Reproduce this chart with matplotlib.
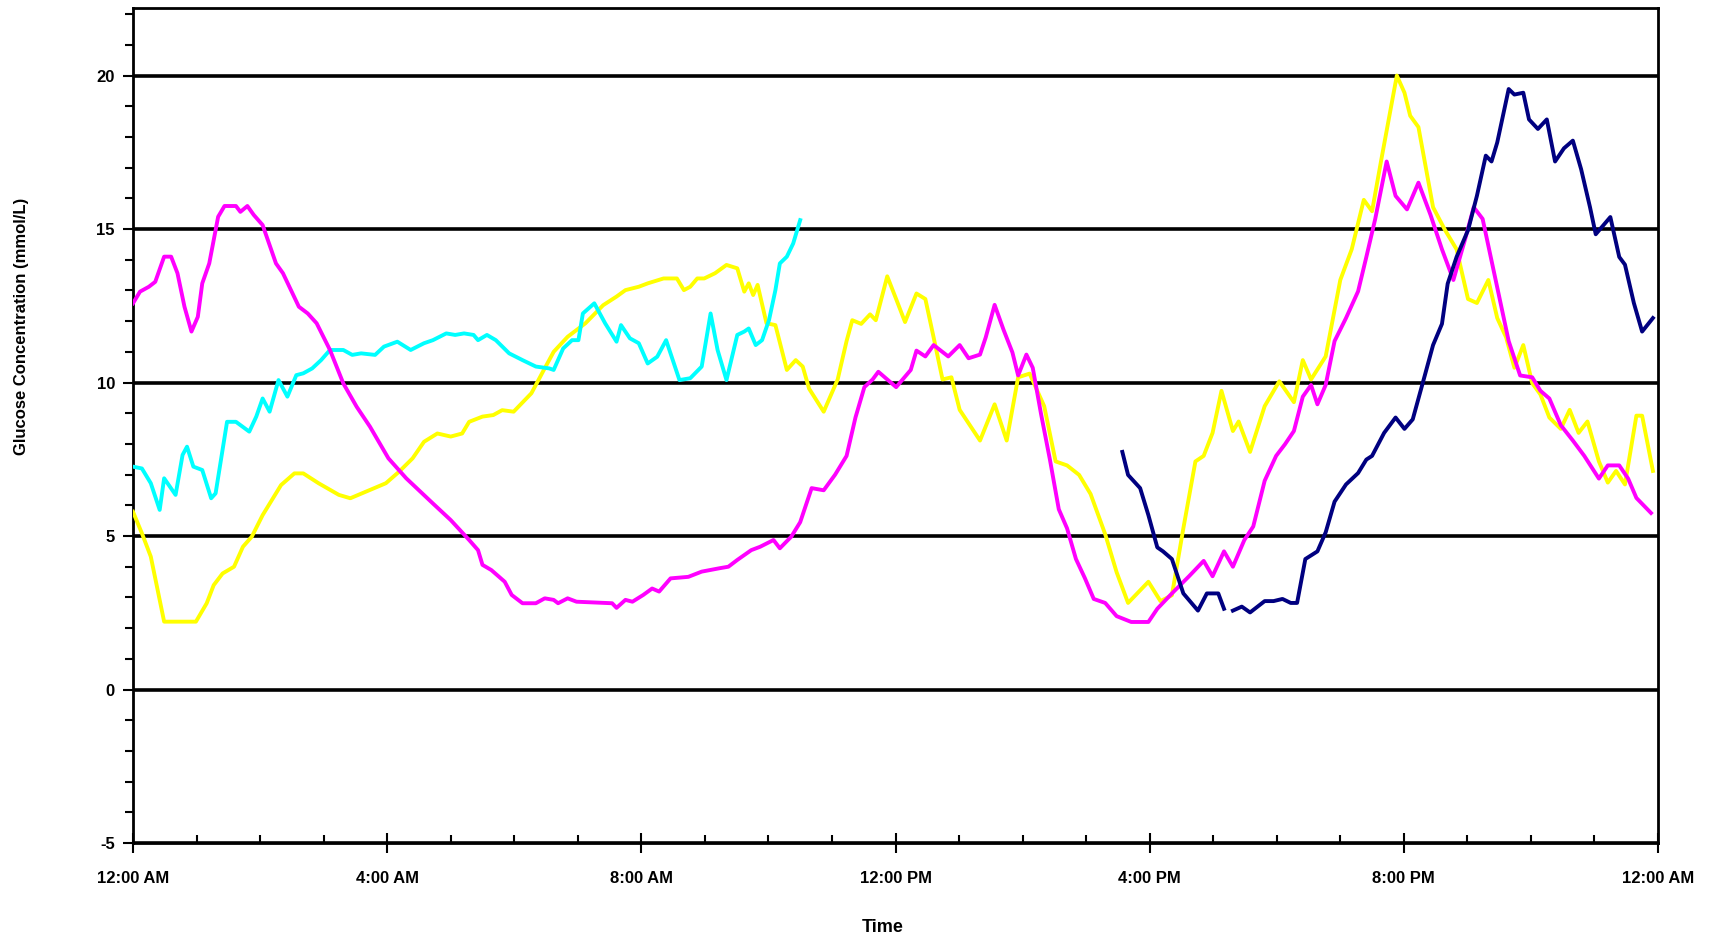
import numpy as np
import matplotlib
matplotlib.use('Agg')
import matplotlib.pyplot as plt
from matplotlib import font_manager

# hours after midnight, glucose in mmol/L
magenta_t = [0, 0.11, 0.25, 0.35, 0.49, 0.6, 0.70, 0.81, 0.92, 1.02, 1.09, 1.2, 1.34, 1.44, 1.62, 1.69,
             1.80, 1.90, 2.04, 2.25, 2.36, 2.61, 2.75, 2.89, 3.10, 3.31, 3.52, 3.73, 4.02, 4.30, 4.72,
             5.0, 5.29, 5.43, 5.50, 5.64, 5.85, 5.96, 6.13, 6.34, 6.48, 6.62, 6.69, 6.84, 6.98, 7.54,
             7.61, 7.75, 7.86, 8.03, 8.17, 8.28, 8.46, 8.74, 8.95, 9.23, 9.37, 9.51, 9.73, 9.87, 10.08,
             10.18, 10.36, 10.5, 10.68, 10.87, 11.05, 11.23, 11.37, 11.51, 11.64, 11.73, 11.87, 12.01,
             12.24, 12.33, 12.47, 12.60, 12.83, 13.01, 13.15, 13.33, 13.42, 13.56, 13.70, 13.84, 13.93,
             14.06, 14.16, 14.29, 14.43, 14.57, 14.70, 14.84, 14.98, 15.12, 15.30, 15.48, 15.71, 15.98,
             16.12, 16.35, 16.62, 16.85, 16.99, 17.17, 17.31, 17.49, 17.63, 17.81, 17.99, 18.13, 18.27,
             18.41, 18.54, 18.64, 18.77, 18.91, 19.09, 19.28, 19.41, 19.55, 19.73, 19.87, 20.05, 20.23,
             20.42, 20.60, 20.78, 20.97, 21.10, 21.24, 21.47, 21.65, 21.83, 22.02, 22.15, 22.29, 22.47,
             22.66, 22.84, 23.07, 23.21, 23.39, 23.53, 23.66, 23.89]
magenta_v = [12.58, 12.96, 13.12, 13.28, 14.1, 14.1, 13.56, 12.47, 11.66, 12.14, 13.23, 13.88, 15.4, 15.75,
             15.75, 15.56, 15.75, 15.46, 15.13, 13.88, 13.56, 12.47, 12.25, 11.93, 11.06, 9.97, 9.21, 8.56,
             7.53, 6.88, 6.06, 5.52, 4.87, 4.54, 4.06, 3.89, 3.51, 3.08, 2.81, 2.81, 2.97, 2.92, 2.81, 2.97,
             2.86, 2.81, 2.66, 2.92, 2.86, 3.08, 3.29, 3.19, 3.62, 3.67, 3.84, 3.95, 4.0, 4.22, 4.54, 4.65,
             4.87, 4.60, 4.98, 5.45, 6.56, 6.49, 7.0, 7.61, 8.86, 9.85, 10.1, 10.35, 10.1, 9.85, 10.41,
             11.04, 10.85, 11.22, 10.85, 11.22, 10.79, 10.91, 11.47, 12.53, 11.72, 10.98, 10.23, 10.91,
             10.48, 8.98, 7.49, 5.87, 5.25, 4.25, 3.63, 2.95, 2.82, 2.39, 2.20, 2.20, 2.63, 3.13, 3.69,
             4.19, 3.69, 4.50, 4.0, 4.87, 5.31, 6.80, 7.61, 7.99, 8.42, 9.54, 9.92, 9.29, 9.92, 11.35,
             12.1, 12.97, 14.09, 15.33, 17.2, 16.08, 15.64, 16.51, 15.46, 14.34, 13.34, 14.71, 15.71,
             15.33, 13.09, 11.35, 10.23, 10.17, 9.73, 9.48, 8.61, 8.11, 7.61, 6.87, 7.30, 7.30, 6.87,
             6.24, 5.75]

yellow_t = [0, 0.14, 0.28, 0.49, 0.99, 1.16, 1.27, 1.41, 1.59, 1.73, 1.87, 2.04, 2.33, 2.54, 2.68, 2.92,
            3.24, 3.42, 3.66, 3.98, 4.19, 4.40, 4.58, 4.79, 5.0, 5.18, 5.29, 5.50, 5.67, 5.81, 5.99, 6.27,
            6.45, 6.62, 6.84, 7.12, 7.40, 7.61, 7.75, 7.96, 8.10, 8.35, 8.56, 8.67, 8.77, 8.88, 8.99,
            9.16, 9.34, 9.51, 9.62, 9.69, 9.76, 9.83, 9.97, 10.11, 10.29, 10.43, 10.54, 10.64, 10.87,
            11.09, 11.23, 11.32, 11.46, 11.60, 11.69, 11.87, 12.01, 12.15, 12.33, 12.47, 12.60, 12.74,
            12.88, 13.01, 13.15, 13.33, 13.56, 13.75, 13.93, 14.11, 14.34, 14.52, 14.70, 14.89, 15.07,
            15.30, 15.48, 15.66, 15.98, 16.17, 16.35, 16.53, 16.72, 16.85, 16.99, 17.13, 17.31, 17.40,
            17.58, 17.81, 18.04, 18.27, 18.41, 18.54, 18.77, 19.0, 19.18, 19.37, 19.50, 19.64, 19.89,
            20.01, 20.10, 20.23, 20.46, 20.65, 20.83, 21.01, 21.15, 21.33, 21.47, 21.61, 21.74, 21.88,
            22.02, 22.15, 22.29, 22.47, 22.61, 22.75, 22.89, 23.07, 23.21, 23.34, 23.48, 23.66, 23.75,
            23.92]
yellow_v = [5.79, 5.09, 4.33, 2.21, 2.21, 2.81, 3.40, 3.78, 4.0, 4.65, 4.98, 5.68, 6.66, 7.04, 7.04, 6.72,
            6.34, 6.23, 6.44, 6.72, 7.10, 7.53, 8.07, 8.34, 8.24, 8.34, 8.72, 8.89, 8.94, 9.10, 9.05, 9.65,
            10.35, 11.0, 11.49, 11.93, 12.52, 12.80, 13.01, 13.12, 13.23, 13.39, 13.39, 13.01, 13.12,
            13.39, 13.39, 13.56, 13.83, 13.72, 12.96, 13.23, 12.85, 13.18, 11.93, 11.87, 10.41, 10.73,
            10.52, 9.80, 9.05, 10.1, 11.35, 12.03, 11.91, 12.22, 12.03, 13.46, 12.72, 11.97, 12.90, 12.72,
            11.47, 10.10, 10.17, 9.11, 8.67, 8.11, 9.29, 8.11, 10.17, 10.29, 9.23, 7.43, 7.30, 6.99, 6.37,
            5.06, 3.82, 2.82, 3.51, 2.88, 3.07, 5.25, 7.43, 7.61, 8.36, 9.73, 8.42, 8.73, 7.74, 9.23,
            10.04, 9.36, 10.73, 10.10, 10.85, 13.34, 14.34, 15.95, 15.58, 17.2, 20.0, 19.44, 18.69,
            18.32, 15.71, 14.96, 14.34, 12.72, 12.59, 13.34, 12.10, 11.47, 10.48, 11.22, 9.98, 9.61,
            8.86, 8.49, 9.11, 8.36, 8.73, 7.43, 6.74, 7.12, 6.68, 8.92, 8.92, 7.12]

cyan_t = [0, 0.14, 0.28, 0.42, 0.49, 0.67, 0.78, 0.85, 0.95, 1.09, 1.23, 1.30, 1.48, 1.62, 1.83, 1.94,
          2.04, 2.15, 2.29, 2.43, 2.57, 2.68, 2.82, 2.96, 3.10, 3.31, 3.45, 3.59, 3.81, 3.95, 4.16, 4.37,
          4.58, 4.72, 4.93, 5.07, 5.21, 5.36, 5.43, 5.57, 5.71, 5.92, 6.13, 6.34, 6.55, 6.62, 6.77, 6.91,
          7.01, 7.08, 7.26, 7.43, 7.61, 7.68, 7.82, 7.96, 8.10, 8.25, 8.39, 8.60, 8.77, 8.95, 9.09, 9.20,
          9.34, 9.51, 9.62, 9.69, 9.80, 9.90, 10.01, 10.11, 10.18, 10.29, 10.39, 10.50]
cyan_v = [7.26, 7.20, 6.72, 5.85, 6.88, 6.34, 7.64, 7.91, 7.26, 7.15, 6.23, 6.39, 8.72, 8.72, 8.40, 8.89,
          9.48, 9.05, 10.08, 9.54, 10.24, 10.30, 10.46, 10.73, 11.06, 11.06, 10.90, 10.95, 10.90, 11.17,
          11.33, 11.06, 11.28, 11.38, 11.60, 11.55, 11.60, 11.55, 11.38, 11.55, 11.38, 10.95, 10.73,
          10.52, 10.46, 10.41, 11.11, 11.38, 11.38, 12.25, 12.58, 11.93, 11.33, 11.87, 11.44, 11.28,
          10.62, 10.84, 11.38, 10.08, 10.14, 10.52, 12.25, 11.06, 10.08, 11.55, 11.66, 11.76, 11.22,
          11.38, 12.04, 13.01, 13.88, 14.10, 14.53, 15.29]

navy_t = [15.57, 15.66, 15.85, 15.98, 16.12, 16.21, 16.35, 16.53, 16.76, 16.90, 17.08, 17.17, 17.24,
          17.31, 17.45, 17.58, 17.81, 17.95, 18.09, 18.22, 18.32, 18.45, 18.64, 18.77, 18.91, 19.09,
          19.28, 19.41, 19.50, 19.69, 19.87, 20.01, 20.14, 20.33, 20.46, 20.60, 20.69, 20.83, 21.01,
          21.15, 21.29, 21.38, 21.47, 21.65, 21.74, 21.88, 21.97, 22.11, 22.25, 22.38, 22.52, 22.66,
          22.79, 22.93, 23.02, 23.25, 23.39, 23.48, 23.62, 23.75, 23.92]
navy_v = [7.74, 6.99, 6.56, 5.68, 4.63, 4.50, 4.25, 3.13, 2.57, 3.13, 3.13, 2.63, np.nan,
          2.57, 2.70, 2.51, 2.88, 2.88, 2.95, 2.82, 2.82, 4.25, 4.50, 5.12, 6.12, 6.68, 7.05, 7.49,
          7.61, 8.36, 8.86, 8.49, 8.80, 10.23, 11.22, 11.91, 13.22, 14.09, 14.96, 16.08, 17.39, 17.20,
          17.82, 19.56, 19.38, 19.44, 18.57, 18.26, 18.57, 17.20, 17.63, 17.88, 16.95, 15.71, 14.83,
          15.39, 14.09, 13.84, 12.59, 11.66, 12.10]

x_ticks = [0, 4, 8, 12, 16, 20, 24]
x_labels = ['12:00 AM', '4:00 AM', '8:00 AM', '12:00 PM', '4:00 PM', '8:00 PM', '12:00 AM']
y_ticks = [-5, 0, 5, 10, 15, 20]

names = {f.name for f in font_manager.fontManager.ttflist}
font = 'Liberation Sans Narrow' if 'Liberation Sans Narrow' in names else 'Liberation Sans'
plt.rcParams['font.family'] = [font, 'DejaVu Sans']
plt.rcParams['font.weight'] = 'bold'

fig = plt.figure(figsize=(17.11, 9.40), dpi=100)
ax = fig.add_axes([133 / 1711, 1 - 843 / 940, (1658 - 133) / 1711, (843 - 8) / 940])

ax.plot(yellow_t, yellow_v, color='#FFFF00', lw=2.8, zorder=3)
ax.plot(magenta_t, magenta_v, color='#FF00FF', lw=2.8, zorder=4)
ax.plot(cyan_t, cyan_v, color='#00FFFF', lw=2.8, zorder=3)
ax.plot(navy_t, navy_v, color='#000080', lw=2.8, zorder=5)

ax.set_xlim(0, 24)
ax.set_ylim(-5, 22.2)
ax.set_xticks(x_ticks)
ax.set_xticklabels(x_labels, fontsize=12, fontweight='bold')
ax.set_xticks(np.arange(0, 25, 1), minor=True)
ax.set_yticks(y_ticks)
ax.set_yticklabels([str(v) for v in y_ticks], fontsize=12, fontweight='bold')
ax.set_yticks(np.arange(-5, 23, 1), minor=True)

ax.tick_params(axis='x', which='major', direction='inout', length=14, width=1.5, pad=13)
ax.tick_params(axis='x', which='minor', direction='in', length=6, width=1.5)
ax.tick_params(axis='y', which='major', direction='out', length=7, width=1.5, pad=6)
ax.tick_params(axis='y', which='minor', direction='out', length=6, width=1.5)

ax.yaxis.grid(True, which='major', color='black', lw=2.6)
ax.set_axisbelow(True)
for s in ax.spines.values():
    s.set_linewidth(2)
    s.set_color('black')

fig.text(883 / 1711, 1 - 928 / 940, 'Time', ha='center', va='center', fontsize=13, fontweight='bold')
fig.text(22 / 1711, 1 - 326 / 940, 'Glucose Concentration (mmol/L)', rotation=90,
         ha='center', va='center', fontsize=12, fontweight='bold')

fig.savefig('out.png', dpi=100)
